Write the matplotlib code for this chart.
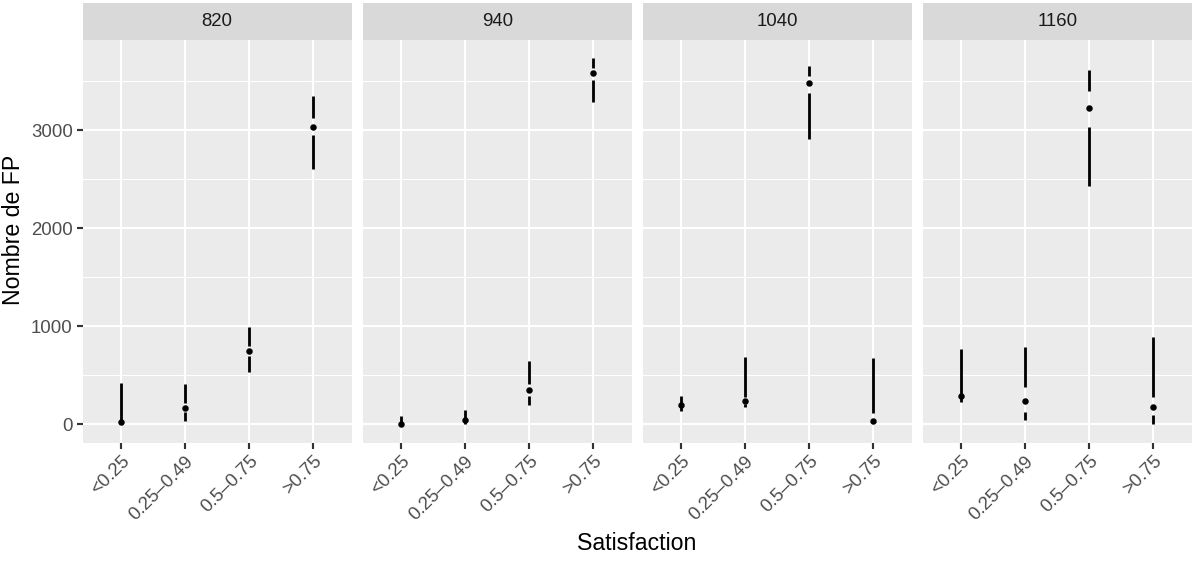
import matplotlib
matplotlib.use("Agg")
import matplotlib.pyplot as plt
from matplotlib.patches import Rectangle
import numpy as np

plt.rcParams['font.family'] = ['Liberation Sans', 'DejaVu Sans']

## data (tufte boxplot: min, Q1, median, Q3, max)
groups = ["820", "940", "1040", "1160"]
categories = ["<0.25", "0.25–0.49", "0.5–0.75", ">0.75"]

ymin = {"820": [0, 34, 536, 2600],
        "940": [0, 3, 197, 3286],
        "1040": [139, 173, 2915, 20],
        "1160": [230, 44, 2429, 3]}
q1 = {"820": [10, 122, 696, 2950],
      "940": [0, 30, 292, 3510],
      "1040": [180, 207, 3384, 28],
      "1160": [270, 125, 3031, 92]}
med = {"820": [23, 166, 750, 3034],
       "940": [0, 47, 350, 3581],
       "1040": [197, 241, 3486, 34],
       "1160": [288, 238, 3227, 173]}
q3 = {"820": [40, 214, 801, 3130],
      "940": [10, 65, 411, 3632],
      "1040": [215, 281, 3550, 112],
      "1160": [300, 383, 3401, 275]}
ymax = {"820": [424, 408, 995, 3350],
        "940": [85, 143, 645, 3734],
        "1040": [292, 683, 3655, 673],
        "1160": [765, 785, 3612, 887]}

W, H = 1192, 563
DPI = 144.7
fig = plt.figure(figsize=(W / DPI, H / DPI), dpi=DPI)

left0, pw, gap = 82.7, 269, 11
ptop, pbot = 40, 442.7
strip_h = 36.7

lo = 0
hi = 3734
rng = hi - lo
ylim = (lo - 0.05 * rng, hi + 0.05 * rng)

for i, g in enumerate(groups):
    x0 = left0 + i * (pw + gap)
    ax = fig.add_axes([x0 / W, (H - pbot) / H, pw / W, (pbot - ptop) / H])
    ax.set_facecolor("#EBEBEB")
    for s in ax.spines.values():
        s.set_visible(False)
    xs = np.arange(1, len(categories) + 1)
    ax.set_xlim(0.4, 4.6)
    ax.set_ylim(*ylim)
    ax.set_xticks(xs)
    ax.set_yticks([0, 1000, 2000, 3000])
    ax.set_yticks([500, 1500, 2500, 3500], minor=True)
    ax.grid(which="major", color="white", linewidth=1.07)
    ax.grid(which="minor", axis="y", color="white", linewidth=0.53)
    ax.set_axisbelow(True)
    ax.tick_params(which="major", length=2.75, width=1.07, color="#333333",
                   labelsize=9.3, labelcolor="#4D4D4D", pad=2.2)
    ax.tick_params(which="minor", length=0)
    ax.set_xticklabels(categories, rotation=45, ha="right", va="top",
                       rotation_mode="anchor")
    if i > 0:
        ax.tick_params(axis="y", which="both", left=False, labelleft=False)

    ax.vlines(xs, ymin[g], q1[g], color="black", linewidth=1.4)
    ax.vlines(xs, q3[g], ymax[g], color="black", linewidth=1.4)
    ax.plot(xs, med[g], "o", color="black", markersize=2.2, linestyle="none")

    ax.add_patch(Rectangle((0, 1), 1, strip_h / (pbot - ptop), transform=ax.transAxes,
                           facecolor="#D9D9D9", edgecolor="none", clip_on=False))
    ax.text(0.5, 1 + strip_h / 2 / (pbot - ptop), g, transform=ax.transAxes,
            ha="center", va="center", fontsize=9.3, color="#1A1A1A")

fig.text(637 / W, 1 - 543 / H, "Satisfaction", ha="center", va="center", fontsize=11.5)
fig.text(14 / W, 1 - 230 / H, "Nombre de FP", ha="center", va="center",
         rotation=90, fontsize=11.5)

fig.savefig("out.png", dpi=DPI)
